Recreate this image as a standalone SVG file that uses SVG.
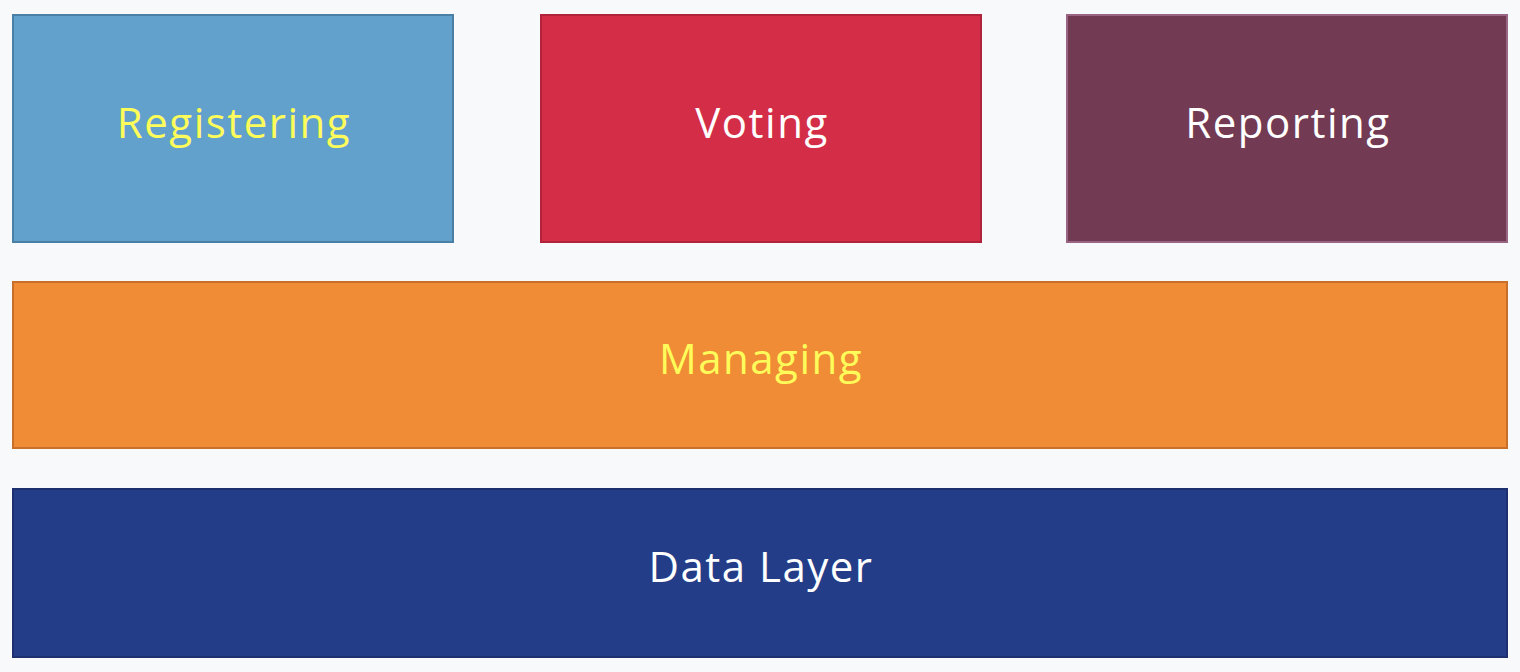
<svg xmlns="http://www.w3.org/2000/svg" width="1520" height="672" viewBox="0 0 1520 672">
<style>
.box{stroke-width:2}
.lbl{font-family:"Open Sans","Liberation Sans",sans-serif;font-size:42px;letter-spacing:1.5px;text-anchor:middle}
.y{fill:#fdfc5a}
.w{fill:#ffffff}
</style>
<rect width="1520" height="672" fill="#f7f9fb"/>
<g id="registering">
<rect class="box" x="13" y="15" width="440" height="227" fill="#62a1cc" stroke="#4a7fa6"/>
<text class="lbl y" x="234" y="138">Registering</text>
</g>
<g id="voting">
<rect class="box" x="541" y="15" width="440" height="227" fill="#d42d47" stroke="#b0233a"/>
<text class="lbl w" x="762" y="138">Voting</text>
</g>
<g id="reporting">
<rect class="box" x="1067" y="15" width="440" height="227" fill="#733a53" stroke="#9a6582"/>
<text class="lbl w" x="1288" y="138">Reporting</text>
</g>
<g id="managing">
<rect class="box" x="13" y="282" width="1494" height="166" fill="#f08c35" stroke="#c96f2a"/>
<text class="lbl y" x="761" y="374">Managing</text>
</g>
<g id="data-layer">
<rect class="box" x="13" y="489" width="1494" height="168" fill="#233d89" stroke="#1c3070"/>
<text class="lbl w" x="761" y="582">Data Layer</text>
</g>
<g id="connectors"></g>
</svg>
